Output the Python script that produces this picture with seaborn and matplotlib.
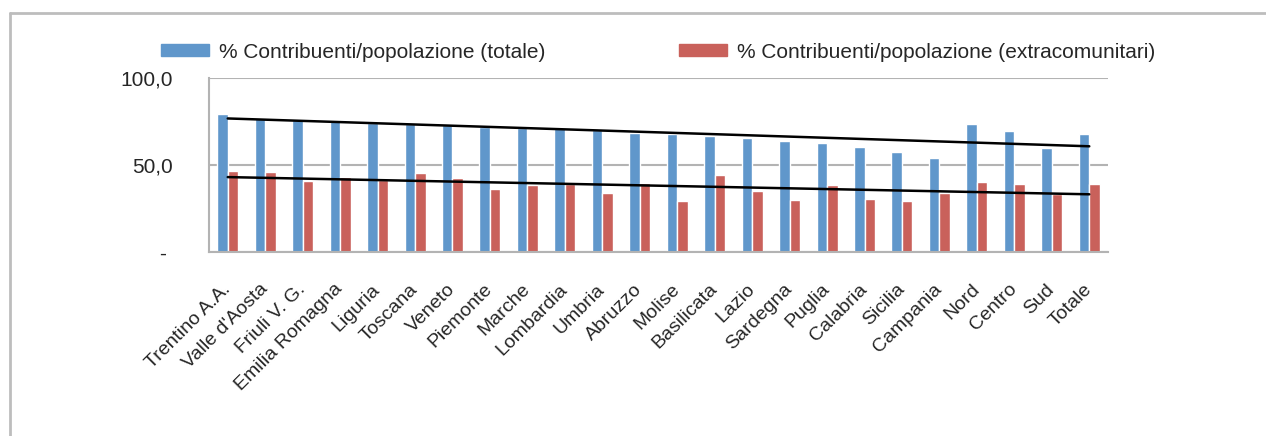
import numpy as np
import pandas as pd
import matplotlib
matplotlib.use("Agg")
import matplotlib.pyplot as plt
import seaborn as sns
from matplotlib.lines import Line2D
from matplotlib.patches import Patch
from matplotlib.ticker import FixedLocator

# valori
regioni = ["Trentino A.A.", "Valle d'Aosta", "Friuli V. G.", "Emilia Romagna", "Liguria",
           "Toscana", "Veneto", "Piemonte", "Marche", "Lombardia", "Umbria", "Abruzzo",
           "Molise", "Basilicata", "Lazio", "Sardegna", "Puglia", "Calabria", "Sicilia",
           "Campania", "Nord", "Centro", "Sud", "Totale"]
totale = [79.5, 76.8, 76.0, 75.5, 74.2, 73.4, 72.8, 71.9, 71.3, 71.0, 70.2, 68.2,
          68.0, 66.5, 65.7, 63.6, 62.6, 60.5, 57.4, 54.3, 73.3, 69.6, 59.7, 68.0]
extracom = [46.5, 45.9, 40.7, 43.0, 41.1, 45.2, 42.3, 36.0, 38.6, 39.0, 33.7, 39.9,
            29.1, 44.4, 35.1, 29.8, 38.4, 30.6, 29.1, 34.1, 40.5, 39.0, 33.5, 39.0]
serie = ["% Contribuenti/popolazione (totale)", "% Contribuenti/popolazione (extracomunitari)"]

sns.set_style("white")
plt.rcParams['font.family'] = ['Liberation Sans', 'DejaVu Sans']

df = pd.DataFrame({"Regione": regioni * 2,
                   "Valore": totale + extracom,
                   "Serie": [serie[0]] * len(regioni) + [serie[1]] * len(regioni)})

fig = plt.figure(figsize=(12.66, 4.36), dpi=100)
ax = fig.add_axes([209 / 1266, 1 - 252 / 436, 899 / 1266, 174 / 436])

sns.barplot(data=df, x="Regione", y="Valore", hue="Serie", order=regioni,
            palette=["#6097CB", "#C9615B"], width=0.56, gap=0, saturation=1,
            ax=ax, legend=False)

# linee di tendenza lineari
x = np.arange(len(regioni))
for vals in (totale, extracom):
    p = np.polyfit(x, vals, 1)
    ax.plot(x, np.polyval(p, x), color="black", lw=1.8, zorder=5)

ax.set_xlim(-0.5, len(regioni) - 0.5)
ax.set_ylim(0, 100)
ax.set_yticks([0, 50, 100])
ax.set_yticklabels(["- ", "50,0", "100,0"], fontsize=15)
ax.yaxis.grid(True, color="#b3b3b3", lw=1.5)
ax.set_axisbelow(True)
ax.set_xlabel("")
ax.set_ylabel("")

ax.set_xticks(x)
ax.set_xticklabels(regioni, rotation=45, ha="right", va="center",
                   rotation_mode="anchor", fontsize=14)
ax.xaxis.set_minor_locator(FixedLocator(np.arange(-0.5, len(regioni), 1)))
ax.tick_params(axis="x", which="major", length=0, pad=25)
ax.tick_params(axis="x", which="minor", length=5, width=1.5, color="#b3b3b3", direction="out")
ax.tick_params(axis="y", length=5, width=1.5, color="#b3b3b3", direction="out", pad=21)

for s in ("top", "right"):
    ax.spines[s].set_visible(False)
for s in ("left", "bottom"):
    ax.spines[s].set_color("#b3b3b3")
    ax.spines[s].set_linewidth(1.5)

handles = [Patch(color="#6097CB"), Patch(color="#C9615B")]
fig.legend(handles, serie, loc="center left", bbox_to_anchor=(161 / 1266, 1 - 52 / 436),
           ncol=2, frameon=False, fontsize=15, handlelength=2.3, handleheight=0.5,
           handletextpad=0.5, columnspacing=6.4, borderpad=0, borderaxespad=0)

# cornice del grafico
gx, gy = 10 / 1266, 1 - 13 / 436
fig.add_artist(Line2D([gx, gx], [0, gy], transform=fig.transFigure, color="#bdbdbd", lw=2))
fig.add_artist(Line2D([gx, 1], [gy, gy], transform=fig.transFigure, color="#bdbdbd", lw=2))

fig.savefig("out.png", dpi=100)
